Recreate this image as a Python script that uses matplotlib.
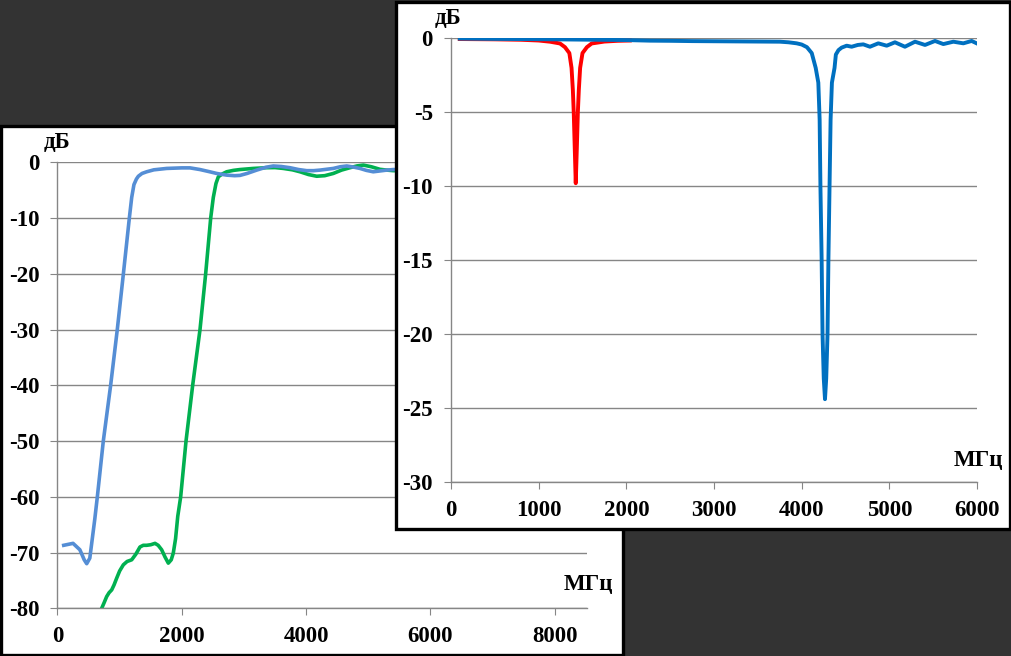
import matplotlib
matplotlib.use("Agg")
import matplotlib.pyplot as plt
from matplotlib.patches import Rectangle

plt.rcParams["axes.unicode_minus"] = False

W, H = 1012, 656

# left chart: two high-pass responses (MHz, dB)
blue_l_f = [100, 250, 360, 430, 470, 520, 560, 600, 641, 737, 855, 962, 1060, 1156,
            1194, 1230, 1270, 1301, 1360, 1435, 1550, 1757, 2000, 2132, 2293, 2450,
            2561, 2722, 2850, 2936, 3050, 3205, 3350, 3472, 3600, 3741, 3880, 4010,
            4120, 4224, 4330, 4438, 4550, 4654, 4760, 4867, 4970, 5081, 5190, 5297,
            5403, 5500]
blue_l_db = [-68.7, -68.35, -69.5, -71.3, -72.0, -71.0, -67.5, -64, -60, -50, -40, -30,
             -20, -10, -6.3, -4.0, -3.0, -2.5, -2.0, -1.7, -1.35, -1.1, -1.0, -1.0, -1.3,
             -1.7, -2.0, -2.3, -2.4, -2.35, -2.0, -1.4, -0.9, -0.66, -0.75, -0.97, -1.3,
             -1.5, -1.5, -1.4, -1.25, -1.1, -0.8, -0.66, -0.85, -1.1, -1.45, -1.7, -1.55,
             -1.4, -1.3, -1.3]

green_l_f = [640, 690, 711, 750, 791, 830, 872, 910, 952, 1000, 1059, 1120, 1194, 1260,
             1327, 1380, 1435, 1500, 1569, 1620, 1676, 1730, 1783, 1830, 1863, 1900,
             1935, 1982, 2068, 2175, 2293, 2384, 2465, 2507, 2550, 2588, 2650, 2722,
             2830, 2936, 3150, 3365, 3500, 3633, 3780, 3902, 4040, 4170, 4300, 4438,
             4570, 4706, 4820, 4921, 5050, 5189, 5300, 5403, 5500]
green_l_db = [-83, -80.5, -80, -79, -77.9, -77.2, -76.7, -75.8, -74.6, -73.3, -72.2,
              -71.6, -71.3, -70.3, -69.0, -68.7, -68.7, -68.6, -68.35, -68.7, -69.5,
              -70.8, -71.9, -71.3, -70.1, -67.5, -63.5, -60, -50, -40, -30, -20, -10,
              -6.3, -3.8, -2.6, -2.1, -1.7, -1.45, -1.3, -1.1, -0.97, -0.95, -1.1, -1.35,
              -1.7, -2.2, -2.5, -2.4, -2.0, -1.4, -0.97, -0.65, -0.5, -0.8, -1.26, -1.4,
              -1.5, -1.5]

# right chart: two notch responses (MHz, dB)
red_r_f = [100, 500, 800, 1000, 1130, 1243, 1300, 1350, 1375, 1390, 1400, 1412, 1423,
           1435, 1447, 1458, 1473, 1500, 1550, 1605, 1750, 1900, 2040]
red_r_db = [-0.05, -0.07, -0.1, -0.15, -0.23, -0.35, -0.6, -1.0, -2.0, -3.5, -5.0, -7.5,
            -9.8, -7.5, -5.0, -3.5, -2.0, -1.0, -0.6, -0.35, -0.22, -0.17, -0.15]

blue_r_f = [100, 500, 1000, 1500, 2000, 2270, 2500, 2750, 3000, 3250, 3500, 3753, 3850,
            3943, 4000, 4060, 4115, 4160, 4190, 4205, 4214, 4228, 4238, 4252, 4266,
            4280, 4295, 4305, 4318, 4330, 4345, 4375, 4390, 4420, 4456, 4513, 4570,
            4640, 4703, 4779, 4874, 4970, 5064, 5178, 5293, 5407, 5521, 5616, 5730,
            5844, 5939, 5996]
blue_r_db = [-0.02, -0.04, -0.06, -0.09, -0.12, -0.16, -0.17, -0.19, -0.2, -0.21, -0.22,
             -0.23, -0.27, -0.34, -0.42, -0.6, -1.0, -2.0, -3.0, -5.5, -10, -15, -20,
             -23, -24.4, -23, -20, -15, -10, -5.5, -3.0, -2.0, -1.1, -0.8, -0.63, -0.5,
             -0.57, -0.45, -0.41, -0.57, -0.34, -0.5, -0.27, -0.57, -0.23, -0.45, -0.18,
             -0.39, -0.23, -0.34, -0.18, -0.34]

left_xticks = [0, 2000, 4000, 6000, 8000]
left_yticks = [0, -10, -20, -30, -40, -50, -60, -70, -80]
right_xticks = [0, 1000, 2000, 3000, 4000, 5000, 6000]
right_yticks = [0, -5, -10, -15, -20, -25, -30]

FONT = "Liberation Serif"
GRID = "#868686"
FS = 16.5


def box(x0, y0, x1, y1):
    # pixel box (top-down) -> figure fraction
    return [x0 / W, 1 - y1 / H, (x1 - x0) / W, (y1 - y0) / H]


def panel(x0, y0, x1, y1, z):
    r = Rectangle((x0 / W, 1 - y1 / H), (x1 - x0) / W, (y1 - y0) / H,
                  transform=fig.transFigure, facecolor="white", edgecolor="black",
                  linewidth=2.4, zorder=z)
    fig.add_artist(r)


def style(ax, xlim, ylim, xticks, yticks):
    ax.set_xlim(*xlim)
    ax.set_ylim(*ylim)
    ax.set_xticks(xticks)
    ax.set_yticks(yticks)
    ax.set_facecolor("none")
    for s in ["top", "right"]:
        ax.spines[s].set_visible(False)
    for s in ["left", "bottom"]:
        ax.spines[s].set_color(GRID)
        ax.spines[s].set_linewidth(1.0)
    ax.grid(axis="y", color=GRID, linewidth=1.0)
    ax.set_axisbelow(True)
    ax.tick_params(axis="y", length=5, color=GRID, pad=8)
    ax.tick_params(axis="x", length=5, color=GRID, pad=8)
    for lab in ax.get_xticklabels() + ax.get_yticklabels():
        lab.set_fontfamily(FONT)
        lab.set_fontweight("bold")
        lab.set_fontsize(FS)


fig = plt.figure(figsize=(W / 100, H / 100), dpi=100)
fig.patch.set_facecolor("#333333")

# left panel
panel(1.5, 125.5, 623.5, 654.5, 1)
ax1 = fig.add_axes(box(57.5, 162.3, 587, 608.3))
ax1.set_zorder(2)
style(ax1, (0, 8520), (-80, 0), left_xticks, left_yticks)
ax1.plot(green_l_f, green_l_db, color="#00B050", linewidth=2.6,
         solid_joinstyle="round")
ax1.plot(blue_l_f, blue_l_db, color="#558ED5", linewidth=2.6,
         solid_joinstyle="round")
fig.text(57 / W, 1 - 142 / H, "дБ", family=FONT, weight="bold", fontsize=FS,
         ha="center", va="center", zorder=2)
fig.text(588 / W, 1 - 585 / H, "МГц", family=FONT, weight="bold", fontsize=FS,
         ha="center", va="center", zorder=2)

# right panel
panel(395.5, 1.5, 1009.5, 528.5, 3)
ax2 = fig.add_axes(box(451, 38.3, 977, 482))
ax2.set_zorder(4)
style(ax2, (0, 6000), (-30, 0), right_xticks, right_yticks)
ax2.plot(red_r_f, red_r_db, color="#FF0000", linewidth=2.8,
         solid_joinstyle="round")
ax2.plot(blue_r_f, blue_r_db, color="#0070C0", linewidth=2.8,
         solid_joinstyle="round")
fig.text(448 / W, 1 - 18 / H, "дБ", family=FONT, weight="bold", fontsize=FS,
         ha="center", va="center", zorder=5)
fig.text(978 / W, 1 - 460 / H, "МГц", family=FONT, weight="bold", fontsize=FS,
         ha="center", va="center", zorder=5)

fig.savefig("out.png", dpi=100, facecolor=fig.get_facecolor())
